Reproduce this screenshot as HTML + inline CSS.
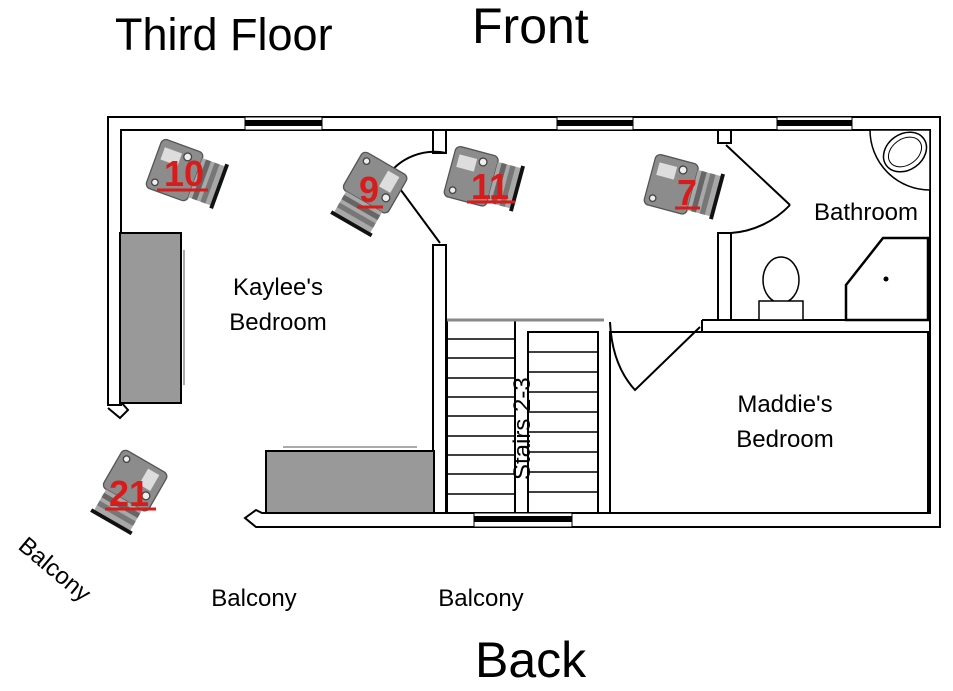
<!DOCTYPE html>
<html><head><meta charset="utf-8"><style>
html,body{margin:0;padding:0;background:#fff;}
svg{display:block;}
text{font-family:"Liberation Sans",sans-serif;}
</style></head><body>
<svg width="953" height="691" viewBox="0 0 953 691" xmlns="http://www.w3.org/2000/svg">
<defs>
<g id="cam">
  <rect x="-28" y="-20" width="34" height="40" rx="4" fill="#8c8c8c" stroke="#555" stroke-width="1"/>
  <rect x="-24" y="-14" width="14" height="10" fill="#ddd"/>
  <circle cx="-5" cy="-13" r="3" fill="#eee" stroke="#444"/>
  <circle cx="-22" cy="14" r="2.5" fill="#eee" stroke="#444"/>
  <rect x="6" y="-16" width="18" height="32" fill="#a8a8a8"/>
  <rect x="9" y="-16" width="4" height="32" fill="#666"/>
  <rect x="16" y="-16" width="4" height="32" fill="#777"/>
  <rect x="24" y="-18" width="3" height="36" fill="#111"/>
</g>
</defs>

<text x="115" y="50" font-size="45" fill="#000">Third Floor</text>
<text x="472" y="43" font-size="50" fill="#000">Front</text>
<text x="475" y="677" font-size="50" fill="#000">Back</text>

<g fill="none" stroke="#000" stroke-width="2">
  <path d="M122,405 L108,405 L108,117 L940,117 L940,527 L256,527 L245,518 L256,510 L262,513 L930,513 L930,130 L121,130 L121,402 L128,410 L120,418 L108,408"/>
  <path d="M433,130 L433,153 L446,153 L446,130"/>
  <path d="M433,513 L433,245 L446,245 L446,513"/>
  <path d="M446,153 A58,58 0 0 0 388,175"/>
  <line x1="392" y1="178" x2="440" y2="243"/>
  <path d="M718,130 L718,143 L731,143 L731,130"/>
  <path d="M718,320 L718,233 L731,233 L731,320"/>
  <line x1="726" y1="145" x2="790" y2="205"/>
  <path d="M790,205 A90,90 0 0 1 731,233"/>
  <path d="M702,320 L930,320 M702,320 L702,332 L928,332"/>
  <rect x="610" y="332" width="318" height="181"/>
  <path d="M610,322 Q612,365 635,390 L700,327"/>
  <rect x="447" y="320" width="68" height="193"/>
  <rect x="528" y="332" width="70" height="181"/>
  <line x1="515" y1="320" x2="515" y2="513"/>
</g>
<g stroke="#000" stroke-width="1.5">
  <line x1="447" y1="339" x2="515" y2="339"/><line x1="447" y1="358" x2="515" y2="358"/>
  <line x1="447" y1="378" x2="515" y2="378"/><line x1="447" y1="397" x2="515" y2="397"/>
  <line x1="447" y1="416" x2="515" y2="416"/><line x1="447" y1="436" x2="515" y2="436"/>
  <line x1="447" y1="455" x2="515" y2="455"/><line x1="447" y1="474" x2="515" y2="474"/>
  <line x1="447" y1="494" x2="515" y2="494"/>
  <line x1="528" y1="352" x2="598" y2="352"/><line x1="528" y1="372" x2="598" y2="372"/>
  <line x1="528" y1="392" x2="598" y2="392"/><line x1="528" y1="412" x2="598" y2="412"/>
  <line x1="528" y1="432" x2="598" y2="432"/><line x1="528" y1="452" x2="598" y2="452"/>
  <line x1="528" y1="472" x2="598" y2="472"/><line x1="528" y1="492" x2="598" y2="492"/>
</g>
<line x1="447" y1="320" x2="604" y2="320" stroke="#888" stroke-width="3"/>
<g>
  <rect x="245" y="117" width="77" height="13" fill="#fff" stroke="#000"/><rect x="245" y="120" width="77" height="6" fill="#000"/>
  <rect x="557" y="117" width="76" height="13" fill="#fff" stroke="#000"/><rect x="557" y="120" width="76" height="6" fill="#000"/>
  <rect x="777" y="117" width="75" height="13" fill="#fff" stroke="#000"/><rect x="777" y="120" width="75" height="6" fill="#000"/>
  <rect x="474" y="513" width="98" height="14" fill="#fff" stroke="#000"/><rect x="474" y="516" width="98" height="6" fill="#000"/>
</g>
<rect x="120" y="233" width="61" height="170" fill="#999" stroke="#000" stroke-width="2"/>
<line x1="184" y1="250" x2="184" y2="385" stroke="#555"/>
<rect x="266" y="451" width="168" height="62" fill="#999" stroke="#000" stroke-width="2"/>
<line x1="283" y1="447" x2="417" y2="447" stroke="#555"/>
<path d="M930,130 L870,130 A60,60 0 0 0 930,190 Z" fill="#fff" stroke="#000" stroke-width="1.5"/>
<ellipse cx="905" cy="152" rx="23" ry="18" fill="#fff" stroke="#000" stroke-width="1.5" transform="rotate(-35 905 152)"/>
<ellipse cx="905" cy="152" rx="18" ry="13" fill="none" stroke="#000" transform="rotate(-35 905 152)"/>
<path d="M928,238 L883,238 L846,285 L846,320 L928,320 Z" fill="#fff" stroke="#000" stroke-width="2.5"/>
<circle cx="886" cy="279" r="2.5" fill="#000"/>
<ellipse cx="781" cy="280" rx="18" ry="23" fill="#fff" stroke="#000" stroke-width="1.5"/>
<rect x="759" y="301" width="44" height="19" fill="#fff" stroke="#000" stroke-width="1.5"/>

<text x="278" y="295" font-size="24" text-anchor="middle">Kaylee's</text>
<text x="278" y="330" font-size="24" text-anchor="middle">Bedroom</text>
<text x="866" y="220" font-size="24" text-anchor="middle">Bathroom</text>
<text x="785" y="412" font-size="24" text-anchor="middle">Maddie's</text>
<text x="785" y="447" font-size="24" text-anchor="middle">Bedroom</text>
<text x="530" y="480" font-size="24" transform="rotate(-90 530 480)">Stairs 2-3</text>
<text x="254" y="606" font-size="24" text-anchor="middle">Balcony</text>
<text x="481" y="606" font-size="24" text-anchor="middle">Balcony</text>
<text x="17" y="548" font-size="24" transform="rotate(40 17 548)">Balcony</text>

<g transform="translate(188,175) rotate(20) scale(1.3)"><use href="#cam"/></g>
<g transform="translate(368,195) rotate(120) scale(1.3)"><use href="#cam"/></g>
<g transform="translate(485,180) rotate(15) scale(1.3)"><use href="#cam"/></g>
<g transform="translate(685,188) rotate(15) scale(1.3)"><use href="#cam"/></g>
<g transform="translate(128,493) rotate(120) scale(1.3)"><use href="#cam"/></g>
<g font-size="36" font-weight="bold" fill="#d81b1b" text-anchor="middle">
  <text x="184" y="186">10</text>
  <text x="369" y="202">9</text>
  <text x="490" y="199">11</text>
  <text x="687" y="205">7</text>
  <text x="129" y="506">21</text>
</g>
<g stroke="#d81b1b" stroke-width="3">
  <line x1="157" y1="190" x2="208" y2="190"/>
  <line x1="357" y1="207" x2="383" y2="207"/>
  <line x1="467" y1="202" x2="515" y2="202"/>
  <line x1="675" y1="208" x2="700" y2="208"/>
  <line x1="105" y1="509" x2="156" y2="509"/>
</g>
</svg>
</body></html>
